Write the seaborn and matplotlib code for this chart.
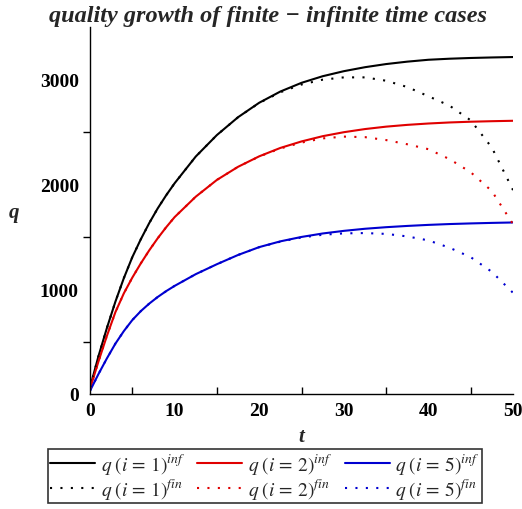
import matplotlib
matplotlib.use("Agg")
import matplotlib.pyplot as plt
import seaborn as sns
import pandas as pd

t = [0, 1, 2, 3, 4, 5, 6, 7, 8, 9, 10, 12.5, 15, 17.5, 20, 22.5, 25, 27.5, 30,
     32.5, 35, 37.5, 40, 42.5, 45, 47.5, 50]

q1_inf = [60, 360, 630, 880, 1105, 1305, 1475, 1630, 1770, 1895, 2010, 2265, 2470, 2640, 2778,
          2885, 2968, 3031, 3079, 3117, 3147, 3170, 3188, 3198, 3205, 3210, 3214]
q2_inf = [50, 310, 555, 780, 960, 1110, 1245, 1370, 1485, 1590, 1687, 1882, 2042, 2167, 2267,
          2347, 2409, 2459, 2497, 2527, 2550, 2567, 2580, 2590, 2597, 2602, 2606]
q5_inf = [30, 190, 340, 480, 600, 705, 790, 862, 925, 981, 1031, 1143, 1238, 1326, 1401,
          1456, 1498, 1531, 1556, 1576, 1591, 1603, 1613, 1621, 1627, 1632, 1636]

q1_fin = [60, 360, 630, 880, 1105, 1305, 1475, 1630, 1770, 1895, 2010, 2265, 2470, 2640, 2776,
          2878, 2952, 2998, 3020, 3020, 2988, 2928, 2840, 2750, 2610, 2350, 1945]
q2_fin = [50, 310, 555, 780, 960, 1110, 1245, 1370, 1485, 1590, 1687, 1882, 2042, 2167, 2265,
          2342, 2398, 2438, 2455, 2450, 2422, 2382, 2335, 2240, 2115, 1935, 1620]
q5_fin = [30, 190, 340, 480, 600, 705, 790, 862, 925, 981, 1031, 1143, 1238, 1326, 1400,
          1453, 1493, 1519, 1532, 1535, 1527, 1503, 1465, 1395, 1305, 1165, 965]

labels = [r"$q\;(i\,=\,1)^{inf}$", r"$q\;(i\,=\,2)^{inf}$", r"$q\;(i\,=\,5)^{inf}$",
          r"$q\;(i\,=\,1)^{fin}$", r"$q\;(i\,=\,2)^{fin}$", r"$q\;(i\,=\,5)^{fin}$"]

sns.set_style("white")
plt.rcParams['mathtext.fontset'] = 'stix'
plt.rcParams['font.family'] = ['Liberation Serif', 'DejaVu Serif']

fig = plt.figure(figsize=(5.22, 5.10), dpi=100)
ax = fig.add_axes([0.1724, 0.2255, 0.8104, 0.7195])

dot = (0, (1, 4))
series = [(q1_inf, 'black', '-'), (q2_inf, '#e00000', '-'), (q5_inf, '#0000d0', '-'),
          (q1_fin, 'black', dot), (q2_fin, '#e00000', dot), (q5_fin, '#0000d0', dot)]
handles = []
for (vals, col, ls), lab in zip(series, labels):
    df = pd.DataFrame({'t': t, 'q': vals})
    sns.lineplot(data=df, x='t', y='q', ax=ax, color=col, linestyle=ls, linewidth=1.5,
                 label=lab, legend=False)
    handles.append(ax.lines[-1])

ax.set_xlim(0, 50)
ax.set_ylim(0, 3500)
ax.set_xticks([0, 10, 20, 30, 40, 50])
ax.set_xticks([5, 15, 25, 35, 45], minor=True)
ax.set_yticks([0, 1000, 2000, 3000])
ax.set_yticks([500, 1500, 2500], minor=True)
for s in ['top', 'right']:
    ax.spines[s].set_visible(False)
for s in ['left', 'bottom']:
    ax.spines[s].set_color('black')
    ax.spines[s].set_linewidth(1.0)
ax.tick_params(axis='x', which='both', direction='in', length=5, width=1, colors='black', pad=6)
ax.tick_params(axis='y', which='both', direction='out', length=5, width=1, colors='black', pad=3)
ax.tick_params(axis='x', which='minor', bottom=True)
ax.tick_params(axis='y', which='minor', left=True)
for lab in ax.get_xticklabels() + ax.get_yticklabels():
    lab.set_fontweight('bold')
    lab.set_fontsize(14)

ax.set_xlabel('t', fontsize=15, fontweight='bold', fontstyle='italic', labelpad=5)
ax.set_ylabel('q', fontsize=15, fontweight='bold', fontstyle='italic', rotation=0)
ax.yaxis.set_label_coords(-0.18, 0.47)

fig.text(0.513, 0.968, 'quality growth of finite \u2212 infinite time cases', ha='center', va='center',
         fontsize=17.5, fontweight='bold', fontstyle='italic')

order = [0, 3, 1, 4, 2, 5]
leg = fig.legend([handles[i] for i in order], [labels[i] for i in order], ncol=3,
                 loc='upper left', bbox_to_anchor=(0.092, 0.117), bbox_transform=fig.transFigure,
                 frameon=True, fancybox=False, edgecolor='black', fontsize=14,
                 handlelength=2.3, handletextpad=0.3, columnspacing=0.65, borderpad=0.1,
                 labelspacing=0.0, borderaxespad=0)
leg.get_frame().set_linewidth(1.2)

fig.savefig('out.png', dpi=100)
